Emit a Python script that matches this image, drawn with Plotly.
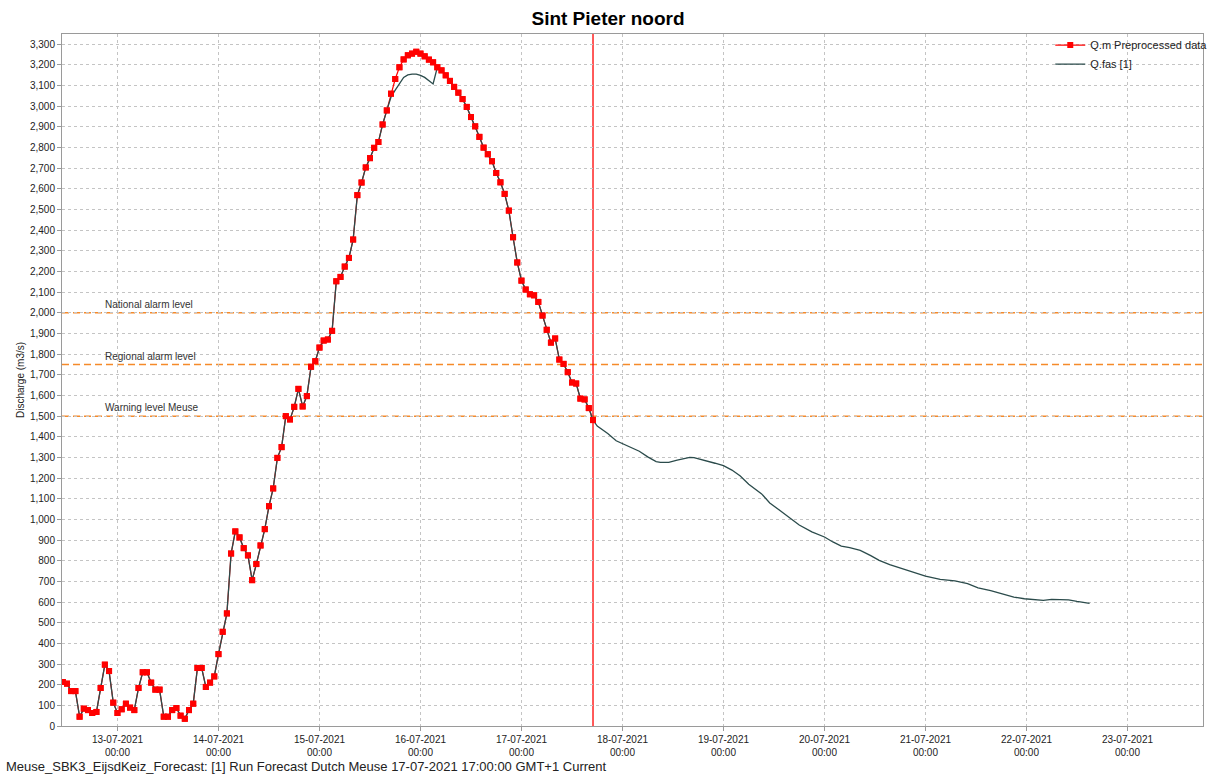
import pandas as pd
import plotly.graph_objects as go

# ---------------- data ----------------
obs_start = "2021-07-12 11:00"
# Q.m Preprocessed data, hourly from 12-07-2021 11:00 to 17-07-2021 17:00
obs_values = [
    213, 205, 169, 169, 45, 84, 77, 63, 68, 184, 297, 266, 113,
    63, 81, 108, 89, 77, 184, 260, 260, 210, 176, 176, 45, 45, 77, 87, 50, 35, 77, 108, 281, 281, 189, 210, 240,
    348, 456, 545, 835, 942, 913, 861, 826, 706, 784, 874, 953, 1064, 1150, 1298, 1350, 1500, 1484, 1545, 1632, 1547, 1597, 1739, 1766,
    1832, 1866, 1871, 1913, 2153, 2174, 2224, 2266, 2355, 2570, 2631, 2704, 2749, 2799, 2827, 2912, 2980, 3061, 3132, 3189, 3227, 3247, 3255, 3264,
    3255, 3242, 3226, 3213, 3189, 3174, 3150, 3123, 3094, 3066, 3035, 2997, 2948, 2903, 2852, 2800, 2768, 2734, 2677, 2632, 2576, 2495, 2366, 2244,
    2156, 2113, 2090, 2085, 2053, 1987, 1918, 1856, 1876, 1774, 1753, 1713, 1663, 1658, 1585, 1581, 1539, 1481,
]

# Q.fas [1]: where it departs from the observations around the peak (15-07 17:00 .. 16-07 03:00)
fas_peak_start = "2021-07-15 17:00"
fas_peak_values = [3045, 3078, 3110, 3140, 3152, 3156, 3156, 3150, 3140, 3122, 3108]

# Q.fas [1] forecast after the forecast time
fc_times = [
    "2021-07-17 18:00", "2021-07-17 20:30", "2021-07-17 22:30", "2021-07-18 00:00", "2021-07-18 02:00",
    "2021-07-18 04:00", "2021-07-18 06:00", "2021-07-18 08:00", "2021-07-18 09:00", "2021-07-18 11:00",
    "2021-07-18 13:00", "2021-07-18 16:00", "2021-07-18 17:00", "2021-07-18 19:00", "2021-07-18 22:00",
    "2021-07-19 00:00", "2021-07-19 02:00", "2021-07-19 04:00", "2021-07-19 06:00", "2021-07-19 09:00",
    "2021-07-19 11:00", "2021-07-19 13:30", "2021-07-19 16:00", "2021-07-19 18:00", "2021-07-19 21:00",
    "2021-07-20 00:00", "2021-07-20 02:00", "2021-07-20 04:00", "2021-07-20 06:00", "2021-07-20 08:30",
    "2021-07-20 11:00", "2021-07-20 13:00", "2021-07-20 15:30", "2021-07-20 19:00", "2021-07-20 21:30",
    "2021-07-21 00:00", "2021-07-21 03:30", "2021-07-21 07:00", "2021-07-21 10:00", "2021-07-21 12:30",
    "2021-07-21 15:30", "2021-07-21 18:00", "2021-07-21 21:00", "2021-07-21 23:30", "2021-07-22 02:00",
    "2021-07-22 04:00", "2021-07-22 06:00", "2021-07-22 08:00", "2021-07-22 10:00", "2021-07-22 12:00",
    "2021-07-22 15:00",
]
fc_values = [
    1452, 1416, 1381, 1368, 1348,
    1330, 1303, 1280, 1276, 1276,
    1287, 1300, 1299, 1289, 1272,
    1260, 1239, 1210, 1170, 1125,
    1080, 1042, 1004, 973, 940,
    915, 891, 871, 863, 850,
    825, 802, 781, 758, 740,
    726, 710, 703, 689, 669,
    655, 640, 624, 616, 613,
    608, 613, 613, 611, 603,
    594,
]

thresholds = [2000, 1750, 1500]
threshold_labels = ["National alarm level", "Regional alarm level", "Warning level Meuse"]
forecast_time = "2021-07-17 17:00"

title_text = "Sint Pieter noord"
footer_text = "Meuse_SBK3_EijsdKeiz_Forecast: [1] Run Forecast Dutch Meuse 17-07-2021 17:00:00 GMT+1 Current"

# ---------------- build series ----------------
obs_times = pd.date_range(obs_start, periods=len(obs_values), freq="h")
peak_times = pd.date_range(fas_peak_start, periods=len(fas_peak_values), freq="h")

fas_hist = pd.Series(obs_values, index=obs_times, dtype=float)
fas_hist.loc[peak_times] = fas_peak_values
fas_x = list(fas_hist.index) + list(pd.to_datetime(fc_times))
fas_y = list(fas_hist.values) + fc_values

FONT = "Liberation Sans, Arial, sans-serif"
RED = "#FF0000"
FAS = "#2B4B4B"
ORANGE = "#F58A2A"

fig = go.Figure()
fig.add_trace(go.Scatter(
    x=obs_times, y=obs_values, mode="lines+markers", name="Q.m Preprocessed data",
    line=dict(color=RED, width=1.2),
    marker=dict(symbol="square", size=6, color=RED),
))
fig.add_trace(go.Scatter(
    x=fas_x, y=fas_y, mode="lines", name="Q.fas [1]",
    line=dict(color=FAS, width=1.3),
))
fig.add_trace(go.Scatter(
    x=obs_times, y=obs_values, mode="markers", showlegend=False,
    marker=dict(symbol="square", size=6, color=RED),
))

for val, lab in zip(thresholds, threshold_labels):
    fig.add_shape(type="line", xref="paper", x0=0, x1=1, y0=val, y1=val,
                  line=dict(color=ORANGE, width=1.5, dash="7px,4px"), layer="between")
    fig.add_annotation(xref="paper", x=0.036, y=val, yref="y", text=lab, showarrow=False,
                       xanchor="left", yanchor="bottom", yshift=1,
                       font=dict(family=FONT, size=10, color="#333333"))

fig.add_shape(type="line", xref="x", yref="paper", x0=forecast_time, x1=forecast_time, y0=0, y1=1,
              line=dict(color=RED, width=1.3), layer="between")

fig.add_annotation(xref="paper", yref="paper", x=-0.0508, y=-0.059, text=footer_text,
                   showarrow=False, xanchor="left", yanchor="middle",
                   font=dict(family=FONT, size=13, color="#222222"))

fig.update_layout(
    width=1216, height=780,
    margin=dict(l=62, r=13, t=34, b=54, autoexpand=False),
    paper_bgcolor="white", plot_bgcolor="white",
    font=dict(family=FONT, size=10, color="#222222"),
    title=dict(text="<b>" + title_text + "</b>", x=0.5, xanchor="center", y=1 - 18 / 780,
               yanchor="middle", font=dict(family=FONT, size=19, color="#000000")),
    showlegend=True,
    legend=dict(x=1.009, y=1.005, xanchor="right", yanchor="top", bgcolor="rgba(255,255,255,0)",
                font=dict(family=FONT, size=11, color="#222222"), tracegroupgap=0,
                itemwidth=30),
    hovermode=False,
)
fig.update_xaxes(
    type="date", range=["2021-07-12 10:49", "2021-07-23 17:57"],
    tick0="2021-07-13 00:00", dtick=86400000, tickformat="%d-%m-%Y<br>%H:%M",
    showgrid=True, gridcolor="#c4c4c4", griddash="dot", gridwidth=1,
    showline=True, mirror=True, linecolor="#9a9a9a", linewidth=1,
    ticks="outside", ticklen=4, tickcolor="#9a9a9a",
    tickfont=dict(family=FONT, size=10, color="#222222"), zeroline=False,
)
fig.update_yaxes(
    range=[0, 3350], dtick=100, tick0=0, tickformat=",d",
    showgrid=True, gridcolor="#c4c4c4", griddash="dot", gridwidth=1,
    showline=True, mirror=True, linecolor="#9a9a9a", linewidth=1,
    ticks="outside", ticklen=4, tickcolor="#9a9a9a",
    tickfont=dict(family=FONT, size=10, color="#222222"), zeroline=False,
    title=dict(text="Discharge (m3/s)", standoff=3, font=dict(family=FONT, size=10, color="#222222")),
)

fig.write_html("out.html", config={"displayModeBar": False},
               post_script="document.body.style.margin='0';document.body.style.overflow='hidden';")
